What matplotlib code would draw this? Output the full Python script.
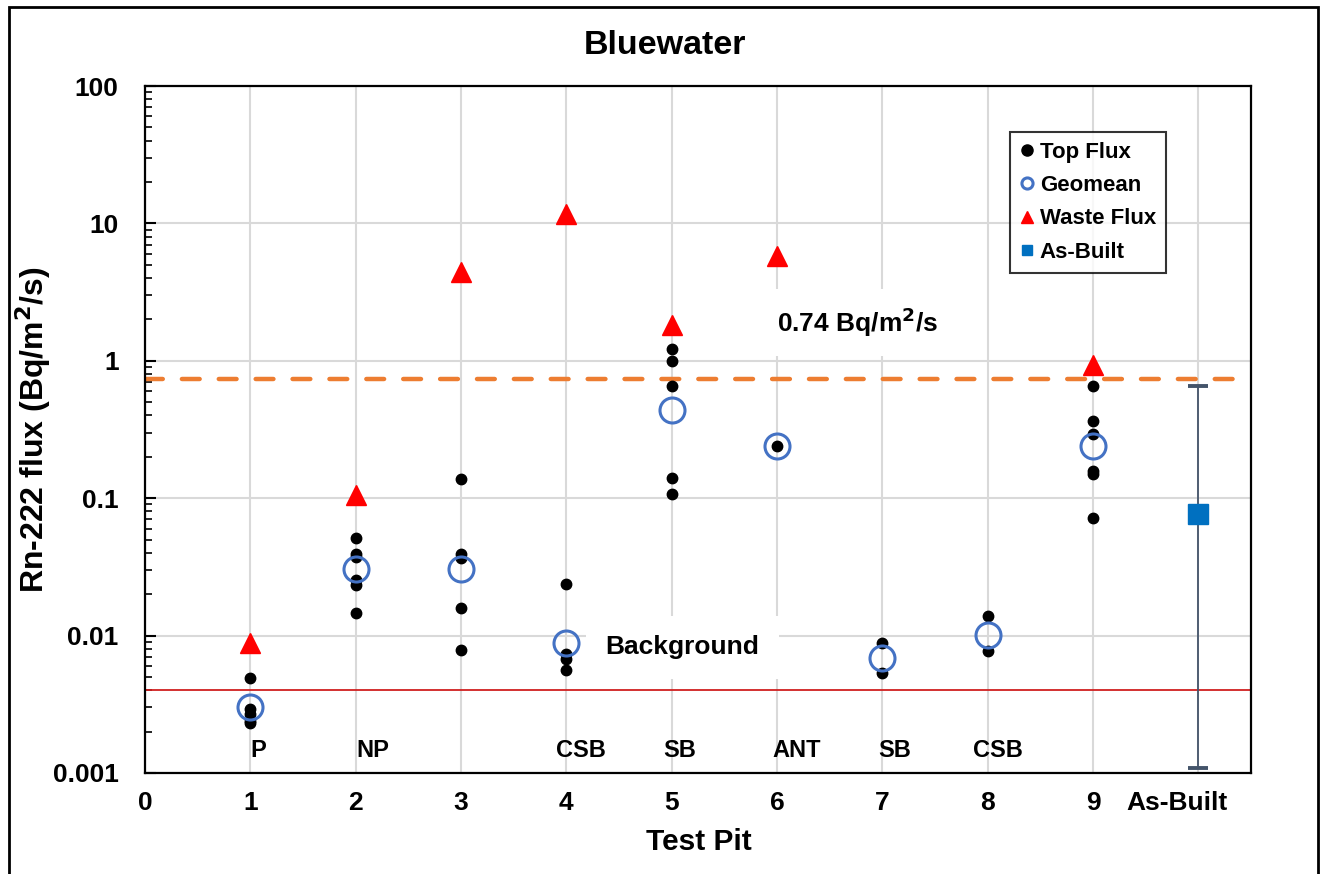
import numpy as np
import matplotlib
matplotlib.use("Agg")
import matplotlib.pyplot as plt
from matplotlib.patches import Rectangle
from matplotlib.lines import Line2D
from matplotlib.transforms import ScaledTranslation

plt.rcParams['font.family'] = ['Liberation Sans', 'DejaVu Sans']
plt.rcParams['font.weight'] = 'bold'

# top flux measurements per test pit
top_x = [1, 1, 1, 1, 1,
         2, 2, 2, 2, 2, 2,
         3, 3, 3, 3, 3,
         4, 4, 4, 4,
         5, 5, 5, 5, 5,
         6,
         7, 7,
         8, 8,
         9, 9, 9, 9, 9, 9]
top_flux = [0.0049, 0.0029, 0.0027, 0.0024, 0.0023,
            0.051, 0.0394, 0.0373, 0.0255, 0.0234, 0.0146,
            0.138, 0.0394, 0.0367, 0.0159, 0.0079,
            0.0238, 0.0074, 0.0067, 0.0056,
            1.22, 1.0, 0.65, 0.14, 0.108,
            0.24,
            0.0089, 0.0053,
            0.0138, 0.0077,
            0.657, 0.366, 0.293, 0.157, 0.150, 0.072]

pits = [1, 2, 3, 4, 5, 6, 7, 8, 9]
geomean = [0.003, 0.0306, 0.0306, 0.0089, 0.44, 0.24, 0.0069, 0.0101, 0.24]

waste_x = [1, 2, 3, 4, 5, 6, 9]
waste_flux = [0.0088, 0.105, 4.45, 11.7, 1.83, 5.8, 0.93]

asbuilt_x = [10]
asbuilt = [0.0766]
asbuilt_lo = [0.00109]
asbuilt_hi = [0.657]

cover_labels = ['P', 'NP', 'CSB', 'SB', 'ANT', 'SB', 'CSB']
cover_x = [1, 2, 4, 5, 6, 7, 8]
cover_shift = [0.0, 0.01, -0.1, -0.08, -0.045, -0.04, -0.14]

standard = 0.74
background = 0.004

fig = plt.figure(figsize=(13.22, 8.74), dpi=100)
ax = fig.add_axes([0.1097, 0.1156, 0.8366, 0.786])

ax.set_yscale('log')
ax.set_ylim(0.001, 100)
ax.set_xlim(0, 10.5)

ax.grid(True, which='major', color='#d9d9d9', linewidth=1.5, zorder=0)
ax.set_axisbelow(True)

ax.axhline(standard, color='#ed7d31', linewidth=3.2, dashes=(4.0, 4.3),
           dash_capstyle='round', zorder=2)
ax.axhline(background, color='#d02020', linewidth=1.3, zorder=2)

ax.errorbar(asbuilt_x, asbuilt,
            yerr=[np.array(asbuilt) - np.array(asbuilt_lo), np.array(asbuilt_hi) - np.array(asbuilt)],
            fmt='none', ecolor='#44546a', elinewidth=1.3, capsize=7, capthick=2.8, zorder=3)

ax.plot(top_x, top_flux, 'o', color='black', markersize=7.5, linestyle='none', zorder=4)
ax.plot(pits, geomean, 'o', markerfacecolor='none', markeredgecolor='#4472c4',
        markeredgewidth=2.2, markersize=18, linestyle='none', zorder=5)
ax.plot(waste_x, waste_flux, '^', color='#ff0000', markersize=15, linestyle='none', zorder=4)
ax.plot(asbuilt_x, asbuilt, 's', color='#0070c0', markersize=14, linestyle='none', zorder=5)

ax.text(6.0, 1.9, '0.74 Bq/m$^\\mathbf{2}$/s', fontsize=19, fontweight='bold', va='center', ha='left',
        bbox=dict(facecolor='white', edgecolor='none', pad=12), zorder=6)
ax.text(4.37, 0.0082, 'Background', fontsize=19, fontweight='bold', va='center', ha='left',
        bbox=dict(facecolor='white', edgecolor='none', pad=14), zorder=6)

for lab, px, dx in zip(cover_labels, cover_x, cover_shift):
    ax.text(px + dx, 0.00145, lab, fontsize=17, fontweight='bold', ha='left', va='center', zorder=6)

ax.set_xticks(range(0, 11))
ax.set_xticklabels([str(i) for i in range(10)] + ['As-Built'])
ax.set_yticks([0.001, 0.01, 0.1, 1, 10, 100])
ax.set_yticklabels(['0.001', '0.01', '0.1', '1', '10', '100'])
ax.tick_params(axis='x', length=0, labelsize=19, pad=13)
ax.tick_params(axis='y', which='major', direction='in', length=8, width=1.5, labelsize=19, pad=19)
ax.tick_params(axis='y', which='minor', direction='in', length=5, width=1.2)
for lab in ax.get_xticklabels() + ax.get_yticklabels():
    lab.set_fontweight('bold')
# the last category label sits a bit left of its tick in the original
last = ax.get_xticklabels()[-1]
last.set_transform(last.get_transform() + ScaledTranslation(-0.21, 0, fig.dpi_scale_trans))

for sp in ax.spines.values():
    sp.set_color('black')
    sp.set_linewidth(1.6)

fig.text(0.503, 0.9485, 'Bluewater', fontsize=24.5, fontweight='bold', ha='center', va='center')
fig.text(0.5285, 0.0366, 'Test Pit', fontsize=21.5, fontweight='bold', ha='center', va='center')
fig.text(0.025, 0.5085, 'Rn-222 flux (Bq/m$^\\mathbf{2}$/s)', fontsize=23, fontweight='bold',
         ha='center', va='center', rotation=90)

handles = [
    Line2D([], [], marker='o', color='black', markersize=8, linestyle='none'),
    Line2D([], [], marker='o', markerfacecolor='none', markeredgecolor='#4472c4',
           markeredgewidth=2.2, markersize=8, linestyle='none'),
    Line2D([], [], marker='^', color='#ff0000', markersize=9, linestyle='none'),
    Line2D([], [], marker='s', color='#0070c0', markersize=7.5, linestyle='none'),
]
labels = ['Top Flux', 'Geomean', 'Waste Flux', 'As-Built']
leg = ax.legend(handles, labels, loc='upper left', bbox_to_anchor=(0.782, 0.933), frameon=True,
                fancybox=False, edgecolor='black', fontsize=16, handlelength=0.6,
                handletextpad=0.3, labelspacing=0.55, borderpad=0.45, borderaxespad=0)
leg.get_frame().set_linewidth(1.5)
for t in leg.get_texts():
    t.set_fontweight('bold')

fig.patches.append(Rectangle((0.007, -0.01), 0.99, 1.002, transform=fig.transFigure,
                             fill=False, edgecolor='black', linewidth=2))

fig.savefig('out.png', dpi=100)
